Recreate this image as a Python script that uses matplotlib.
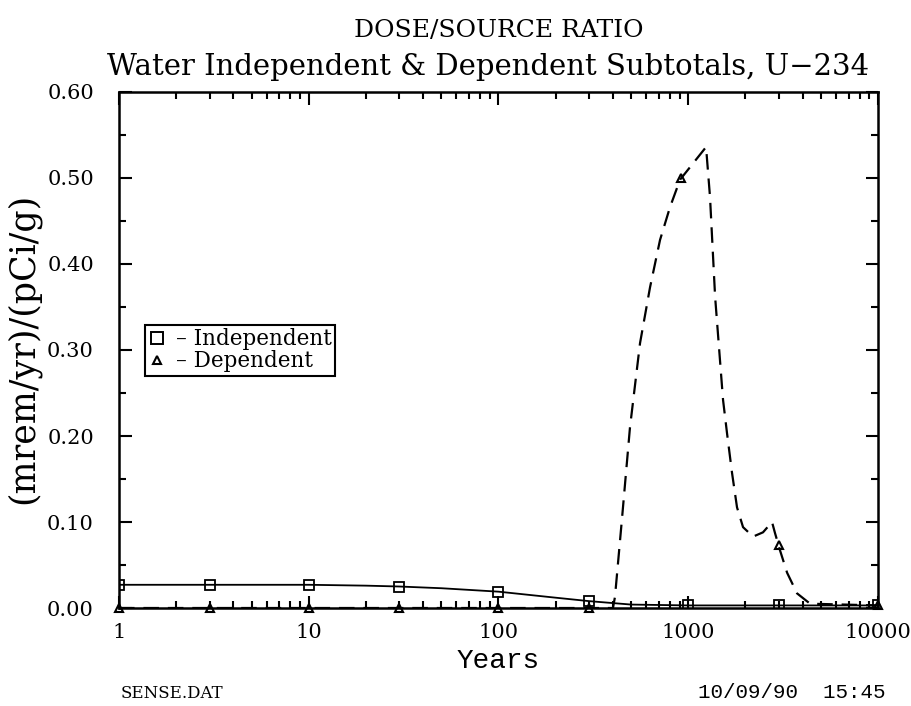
import matplotlib.pyplot as plt
from matplotlib.lines import Line2D
from matplotlib.ticker import LogLocator, MultipleLocator, FixedLocator, FixedFormatter

# water independent subtotal (solid line, squares)
ind_years = [1, 3, 10, 20, 30, 50, 100, 200, 300, 500, 1000, 3000, 10000]
ind_ratio = [0.027, 0.027, 0.027, 0.026, 0.025, 0.023, 0.019, 0.012, 0.008, 0.004, 0.003, 0.003, 0.003]
ind_mark_years = [1, 3, 10, 30, 100, 300, 1000, 3000, 10000]
ind_mark_ratio = [0.027, 0.027, 0.027, 0.025, 0.019, 0.008, 0.003, 0.003, 0.003]

# water dependent subtotal (dashed line, triangles)
dep_years = [1, 3, 10, 30, 100, 300, 401, 411, 450, 493, 557, 629, 710, 801, 905,
             1241, 1302, 1385, 1525, 1601, 1701, 1807, 1944, 2195, 2477, 2763,
             2866, 3045, 3318, 3744, 4385, 10000]
dep_ratio = [0.0, 0.0, 0.0, 0.0, 0.0, 0.0, 0.0, 0.013, 0.11, 0.21, 0.308, 0.373, 0.428, 0.466, 0.498,
             0.536, 0.478, 0.362, 0.242, 0.203, 0.157, 0.117, 0.094, 0.083, 0.088, 0.100,
             0.087, 0.067, 0.041, 0.017, 0.005, 0.003]
dep_mark_years = [1, 3, 10, 30, 100, 300, 920, 3000, 10000]
dep_mark_ratio = [0.0, 0.0, 0.0, 0.0, 0.0, 0.0, 0.50, 0.073, 0.003]

xticks = [1, 10, 100, 1000, 10000]
xlabels = ["1", "10", "100", "1000", "10000"]

plt.rcParams['font.family'] = "DejaVu Serif"

fig = plt.figure(figsize=(9.11, 7.06), dpi=100)
ax = fig.add_axes([0.1306, 0.1388, 0.8332, 0.7309])

ax.plot(ind_years, ind_ratio, color="black", lw=1.3)
ax.plot(ind_mark_years, ind_mark_ratio, ls="none", marker="s", ms=7,
        mfc="none", mec="black", mew=1.3)
ax.plot(dep_years, dep_ratio, color="black", lw=1.6, ls=(0, (7, 4)))
ax.plot(dep_mark_years, dep_mark_ratio, ls="none", marker="^", ms=6,
        mfc="none", mec="black", mew=1.5, clip_on=False)

ax.set_xscale("log")
ax.set_xlim(1, 10000)
ax.set_ylim(0, 0.60)
ax.xaxis.set_major_locator(FixedLocator(xticks))
ax.xaxis.set_major_formatter(FixedFormatter(xlabels))
ax.xaxis.set_minor_locator(LogLocator(base=10, subs=range(2, 10)))
ax.yaxis.set_major_locator(MultipleLocator(0.1))
ax.yaxis.set_minor_locator(MultipleLocator(0.05))
ax.yaxis.set_major_formatter(plt.FormatStrFormatter("%.2f"))
ax.tick_params(which="both", direction="in", top=True, right=True, width=1.5,
               labelsize=15)
ax.tick_params(axis="y", pad=18)
ax.tick_params(axis="x", pad=11)
ax.tick_params(which="major", length=9)
ax.tick_params(which="minor", length=5)
ax.tick_params(axis="x", which="minor", labelbottom=False)
for s in ax.spines.values():
    s.set_linewidth(1.8)

ax.set_xlabel("Years", fontsize=20, family="Liberation Mono", labelpad=4)
fig.text(0.025, 0.506, "(mrem/yr)/(pCi/g)", rotation=90, ha="center", va="center",
         fontsize=25)

fig.text(0.547, 0.957, "DOSE/SOURCE RATIO", ha="center", va="center", fontsize=18)
fig.text(0.536, 0.905, "Water Independent & Dependent Subtotals, U\u2212234",
         ha="center", va="center", fontsize=21)

handles = [Line2D([], [], ls="none", marker="s", ms=8, mfc="none", mec="black", mew=1.4),
           Line2D([], [], ls="none", marker="^", ms=6, mfc="none", mec="black", mew=1.5)]
leg = ax.legend(handles, ["\u2013 Independent", "\u2013 Dependent"],
                loc="upper left", bbox_to_anchor=(0.034, 0.548), fontsize=15.5,
                frameon=True, fancybox=False, edgecolor="black", framealpha=1,
                handlelength=0.8, handletextpad=0.5, borderpad=0.15,
                labelspacing=0.0, borderaxespad=0)
leg.get_frame().set_linewidth(1.5)

fig.text(0.132, 0.006, "SENSE.DAT", ha="left", va="bottom", fontsize=12)
fig.text(0.972, 0.006, "10/09/90  15:45", ha="right", va="bottom", fontsize=15,
         family="Liberation Mono")

fig.savefig("out.png", dpi=100)
